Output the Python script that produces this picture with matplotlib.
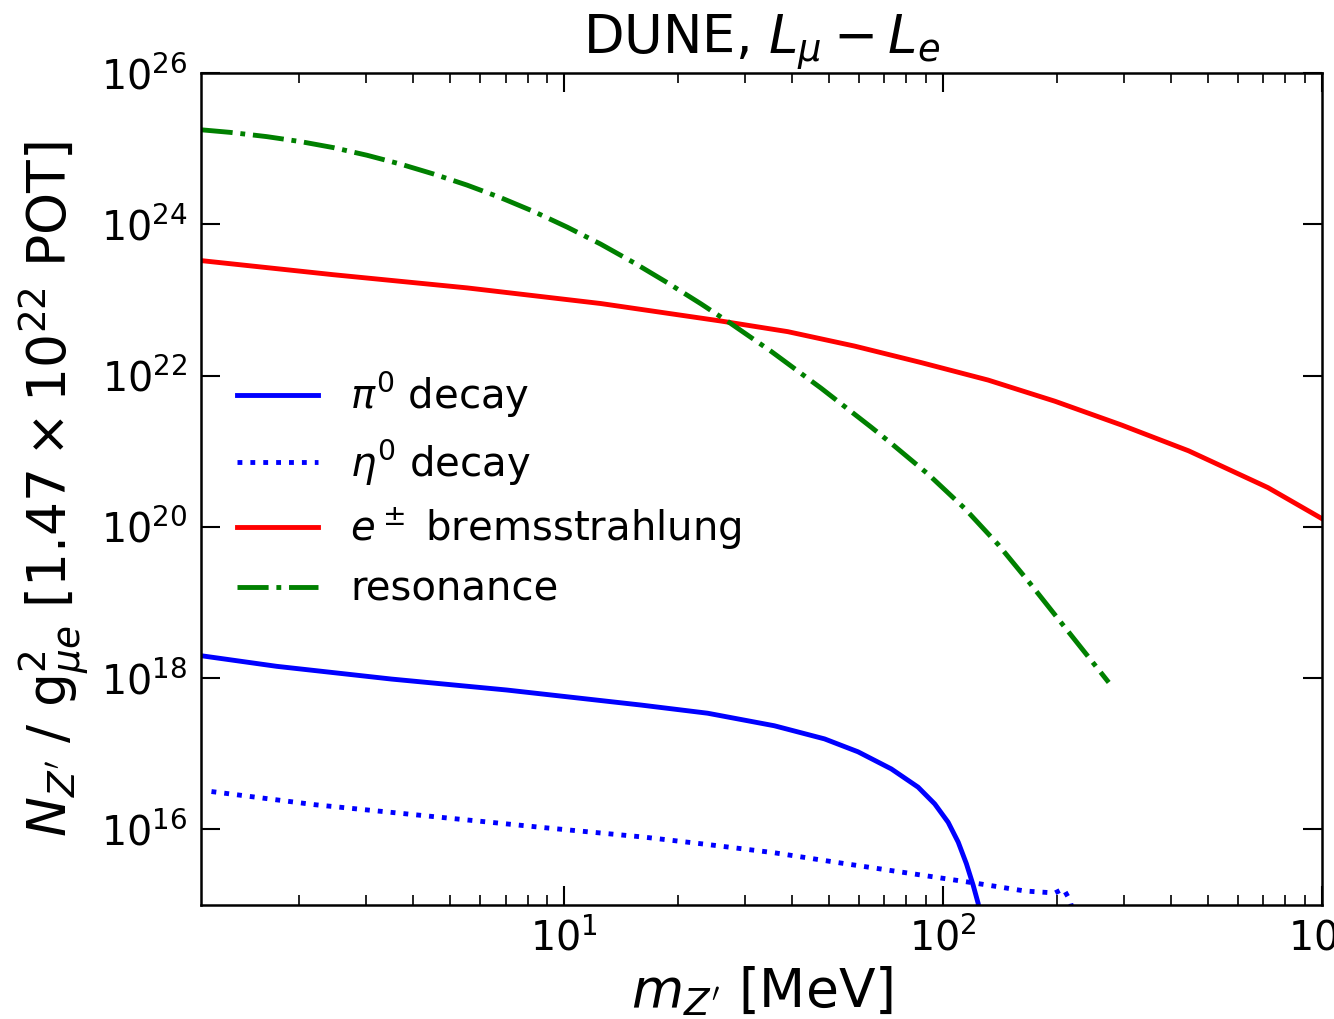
import matplotlib
matplotlib.use("Agg")
import matplotlib.pyplot as plt
from matplotlib.ticker import LogLocator, NullLocator

plt.rcParams['font.family'] = ['DejaVu Sans']
plt.rcParams['mathtext.fontset'] = 'dejavusans'

# Z' mass [MeV] and event counts per g^2 for each production channel
m_pi0 = [1.104, 1.741, 3.50, 7.05, 15.93, 23.90, 35.86, 48.63, 59.61, 73.00, 85.90,
         95.02, 103.1, 109.6, 115.2, 120.1, 123.8, 124.3]
n_pi0 = [1.97e18, 1.43e18, 9.7e17, 6.95e17, 4.40e17, 3.43e17, 2.34e17, 1.57e17, 1.06e17,
         6.29e16, 3.61e16, 2.17e16, 1.24e16, 6.78e15, 3.51e15, 1.81e15, 1.04e15, 8.1e14]

m_eta = [1.172, 2.19, 4.42, 8.90, 16.25, 23.90, 35.86, 53.82, 80.80, 121.2, 164.4, 197.3,
         207.7, 216.2, 219.5]
n_eta = [3.16e16, 2.12e16, 1.49e16, 1.05e16, 7.89e15, 6.30e15, 4.90e15, 3.58e15, 2.64e15,
         1.95e15, 1.53e15, 1.44e15, 1.64e15, 1.15e15, 8.5e14]

m_brem = [1.104, 2.460, 5.541, 12.48, 25.92, 38.91, 58.36, 87.62, 131.5, 197.3, 296.1,
          444.6, 615.2, 720.5, 1000.0]
n_brem = [3.30e23, 2.15e23, 1.44e23, 8.95e22, 5.25e22, 3.80e22, 2.45e22, 1.48e22, 8.7e21,
          4.57e21, 2.21e21, 1.01e21, 4.75e20, 3.29e20, 1.28e20]

m_res = [1.104, 1.311, 1.640, 2.008, 2.460, 3.015, 3.693, 4.523, 5.541, 6.788, 8.316, 10.19,
         12.48, 15.29, 18.74, 22.95, 27.55, 35.15, 47.65, 64.63, 72.24, 91.27, 114.0, 139.8,
         167.8, 203.4, 246.7, 273.6]
n_res = [1.77e25, 1.64e25, 1.44e25, 1.24e25, 1.03e25, 8.17e24, 6.25e24, 4.61e24, 3.29e24,
         2.25e24, 1.47e24, 9.14e23, 5.46e23, 3.09e23, 1.68e23, 8.87e22, 4.85e22, 2.09e22,
         6.79e21, 2.07e21, 1.32e21, 4.97e20, 1.75e20, 5.81e19, 1.91e19, 5.66e18, 1.68e18, 8.75e17]

y_ticks = [1e16, 1e18, 1e20, 1e22, 1e24, 1e26]

fig = plt.figure(figsize=(13.34, 10.19), dpi=100)
ax = fig.add_axes([0.1507, 0.1119, 0.8403, 0.8165])

lw = 3.5
ax.loglog(m_pi0, n_pi0, color='blue', ls='-', lw=lw, label=r'$\pi^0$ decay')
ax.loglog(m_eta, n_eta, color='blue', ls=':', lw=lw, label=r'$\eta^0$ decay')
ax.loglog(m_brem, n_brem, color='red', ls='-', lw=lw, label=r'$e^\pm$ bremsstrahlung')
ax.loglog(m_res, n_res, color='green', ls='-.', lw=lw, label='resonance')

ax.set_xlim(1.1, 1000)
ax.set_ylim(1e15, 1e26)
ax.set_yticks(y_ticks)
ax.yaxis.set_minor_locator(NullLocator())
ax.xaxis.set_major_locator(LogLocator(base=10))
ax.xaxis.set_minor_locator(LogLocator(base=10, subs=range(2, 10)))

for s in ax.spines.values():
    s.set_linewidth(1.8)
ax.tick_params(which='both', direction='in', top=True, right=True, labelsize=28.5)
ax.tick_params(which='major', length=14, width=1.5, pad=10)
ax.tick_params(which='minor', length=7, width=1.2)

ax.set_xlabel(r"$m_{Z'}$ [MeV]", fontsize=38.5, labelpad=3)
ax.set_ylabel(r"$N_{Z'}$ / g$_{\mu e}^2$ [$1.47\times10^{22}$ POT]", fontsize=38.5, labelpad=6)
ax.set_title(r"DUNE, $L_\mu - L_e$", fontsize=38, pad=10)

ax.legend(loc='upper left', bbox_to_anchor=(0.0, 0.687), frameon=False, fontsize=29,
          handlelength=2.0, handletextpad=0.8, labelspacing=0.44)

fig.savefig('out.png', dpi=100)
